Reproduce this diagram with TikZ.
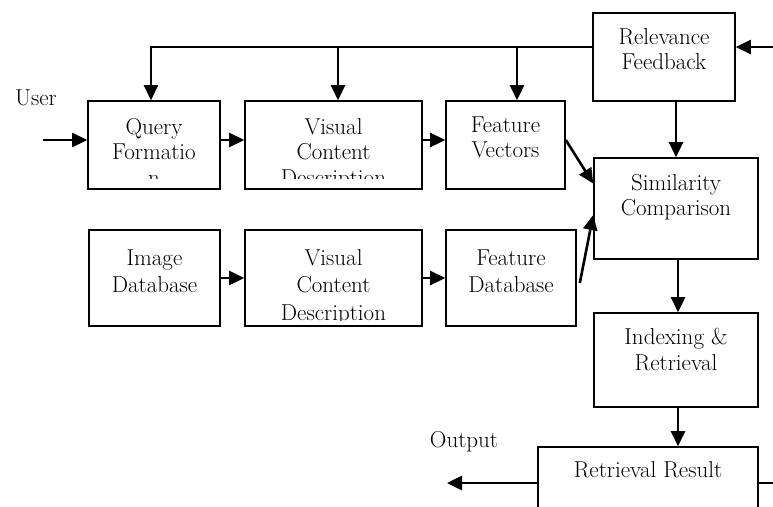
\documentclass[tikz,border=0pt]{standalone}
\usepackage{fontspec}
\setmainfont{Latin Modern Roman}
\usetikzlibrary{arrows.meta}
\begin{document}
\begin{tikzpicture}[x=1pt,y=-1pt,
  box/.style={draw,line width=1.6pt,inner sep=0pt},
  txt/.style={anchor=north,inner sep=0pt,align=center,font=\fontsize{23}{25.5}\selectfont},
  lbl/.style={inner sep=0pt,font=\fontsize{23}{25.5}\selectfont},
  arr/.style={line width=2.6pt,-{Triangle[length=15pt,width=14pt]}}]
\useasboundingbox (0,0) rectangle (773,506);
\clip (0,0) rectangle (773,506);
% boxes
\node[box,minimum width=132pt,minimum height=88pt] (qf) at (154,145) {};
\node[box,minimum width=177pt,minimum height=88pt] (vcq) at (333.5,145) {};
\node[box,minimum width=119pt,minimum height=88pt] (fv) at (505.5,145) {};
\node[box,minimum width=142pt,minimum height=88pt] (rf) at (664,57) {};
\node[box,minimum width=164pt,minimum height=101pt] (sc) at (676,208.5) {};
\node[box,minimum width=131pt,minimum height=96pt] (idb) at (154.5,278) {};
\node[box,minimum width=177pt,minimum height=96pt] (vcd) at (333.5,278) {};
\node[box,minimum width=130pt,minimum height=96pt] (fdb) at (511,278) {};
\node[box,minimum width=164pt,minimum height=94pt] (ir) at (676,360) {};
\node[box,minimum width=220pt,minimum height=72pt] (rr) at (648,483) {};
% texts
\begin{scope}
\clip (0,0) rectangle (773,178);
\node[txt] (qftext) at ([yshift=-18pt]qf.north) {Query\\Formatio\\n};
\node[txt] (vcqtext) at ([yshift=-18pt]vcq.north) {Visual\\Content\\Description};
\end{scope}
\node[txt] (fvtext) at ([yshift=-16pt]fv.north) {Feature\\Vectors};
\node[txt] (rftext) at ([yshift=-16pt]rf.north) {Relevance\\Feedback};
\node[txt] (sctext) at ([yshift=-17pt]sc.north) {Similarity\\Comparison};
\begin{scope}[txt/.append style={font=\fontsize{23}{27.5}\selectfont}]
\clip (0,190) rectangle (773,320);
\node[txt] (idbtext) at ([yshift=-20pt]idb.north) {Image\\Database};
\node[txt] (vcdtext) at ([yshift=-20pt]vcd.north) {Visual\\Content\\Description};
\node[txt] (fdbtext) at ([yshift=-20pt]fdb.north) {Feature\\Database};
\end{scope}
\node[txt] (irtext) at ([yshift=-16pt]ir.north) {Indexing \&\\Retrieval};
\node[txt] (rrtext) at ([yshift=-15pt]rr.north) {Retrieval Result};
\node[lbl] (user) at (36,98) {User};
\node[lbl] (output) at (464,442) {Output};
% connectors
\coordinate (uin) at (43,140);
\coordinate (rin) at (773,47);
\coordinate (fb) at (rf.west |- rin);
\coordinate (out) at (447,483);
\coordinate (rout) at (773,483);
\draw[arr] (uin) -- (uin -| qf.west);
\draw[arr] ([yshift=5pt]qf.east) -- ([yshift=5pt]vcq.west);
\draw[arr] ([yshift=5pt]vcq.east) -- ([yshift=5pt]fv.west);
\draw[arr] (idb.east) -- (vcd.west);
\draw[arr] (vcd.east) -- (fdb.west);
\draw[arr] (rin) -- (rin -| rf.east);
\draw[arr] (fb) -| ([xshift=-3pt]qf.north);
\draw[arr] ([xshift=4.5pt]vcq.north |- fb) -- ([xshift=4.5pt]vcq.north);
\draw[arr] ([xshift=11.5pt]fv.north |- fb) -- ([xshift=11.5pt]fv.north);
\draw[arr] ([xshift=12pt]rf.south) -- ([xshift=12pt]rf.south |- sc.north);
\draw[arr] ([yshift=5pt]fv.east) -- ([yshift=25pt]sc.west);
\draw[arr] ([xshift=3pt,yshift=-5pt]fdb.east) -- ([yshift=-6.5pt]sc.west);
\draw[arr] ([xshift=2pt]sc.south) -- ([xshift=2pt]ir.north);
\draw[arr] ([xshift=2pt]ir.south) -- ([xshift=2pt]ir.south |- rr.north);
\draw[arr] (rr.west) -- (out);
\draw[line width=1.6pt] (rr.east) -- (rout);
\end{tikzpicture}
\end{document}
